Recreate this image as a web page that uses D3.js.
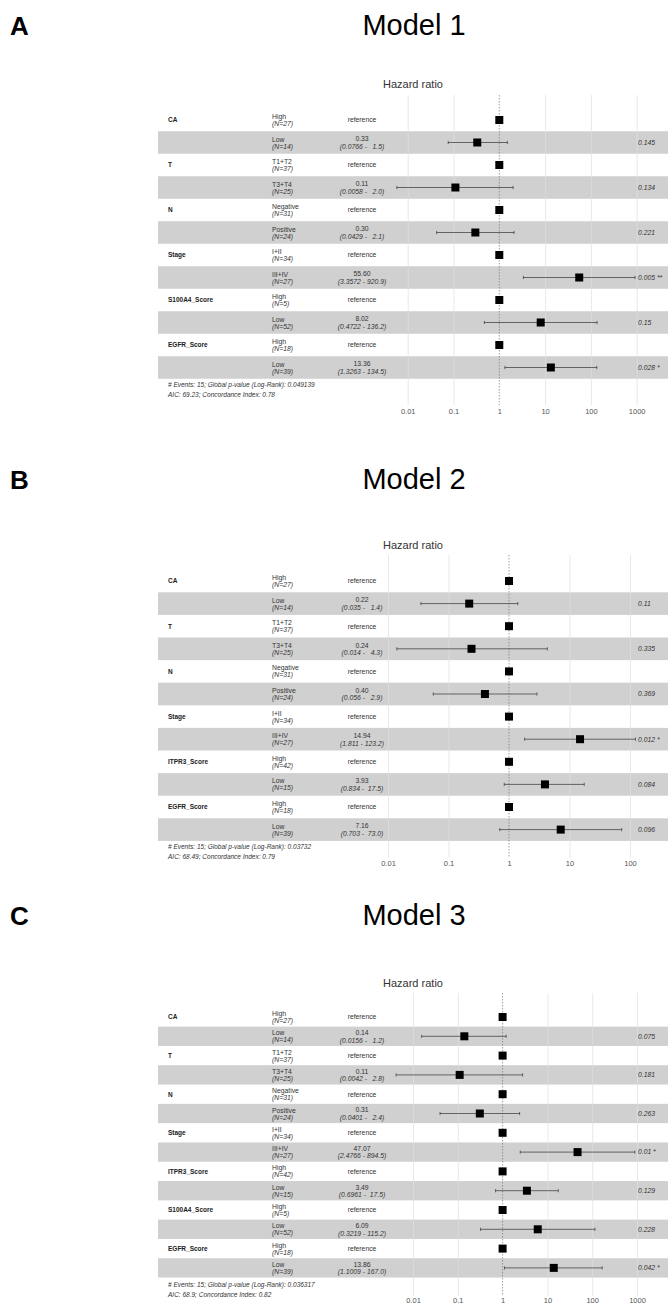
<!DOCTYPE html>
<html>
<head>
<meta charset="utf-8">
<script src="https://cdn.jsdelivr.net/npm/d3@7"></script>
<style>
  body { margin: 0; background: #fff; }
  svg { display: block; font-family: "Liberation Sans", Arial, sans-serif; }
  .var { font-weight: bold; font-size: 6.5px; fill: #222; }
  .cell { font-size: 6.8px; fill: #333; white-space: pre; }
  .ital { font-style: italic; }
  .foot { font-size: 6.5px; font-style: italic; fill: #333; }
  .axis text { font-size: 7.5px; fill: #555; }
  .grid line { stroke: #e0e0e0; stroke-width: 0.7; }
</style>
</head>
<body>
<svg width="668" height="1315"></svg>
<script>
// ---- data ----
const ticksWide = [0.01, 0.1, 1, 10, 100, 1000];
const ticksNarrow = [0.01, 0.1, 1, 10, 100];

// Model 1
const vars1 = ["CA", "T", "N", "Stage", "S100A4_Score", "EGFR_Score"];
const levels1 = ["High", "Low", "T1+T2", "T3+T4", "Negative", "Positive", "I+II", "III+IV", "High", "Low", "High", "Low"];
const n1 = [27, 14, 37, 25, 31, 24, 34, 27, 5, 52, 18, 39];
const hr1 = [1, 0.33, 1, 0.11, 1, 0.30, 1, 55.60, 1, 8.02, 1, 13.36];
const lower1 = [null, 0.0766, null, 0.0058, null, 0.0429, null, 3.3572, null, 0.4722, null, 1.3263];
const upper1 = [null, 1.5, null, 2.0, null, 2.1, null, 920.9, null, 136.2, null, 134.5];
const p1 = ["", "0.145", "", "0.134", "", "0.221", "", "0.005 **", "", "0.15", "", "0.028 *"];
const foot1 = ["# Events: 15; Global p-value (Log-Rank): 0.049139", "AIC: 69.23; Concordance Index: 0.78"];

// Model 2
const vars2 = ["CA", "T", "N", "Stage", "ITPR3_Score", "EGFR_Score"];
const levels2 = ["High", "Low", "T1+T2", "T3+T4", "Negative", "Positive", "I+II", "III+IV", "High", "Low", "High", "Low"];
const n2 = [27, 14, 37, 25, 31, 24, 34, 27, 42, 15, 18, 39];
const hr2 = [1, 0.22, 1, 0.24, 1, 0.40, 1, 14.94, 1, 3.93, 1, 7.16];
const lower2 = [null, 0.035, null, 0.014, null, 0.056, null, 1.811, null, 0.834, null, 0.703];
const upper2 = [null, 1.4, null, 4.3, null, 2.9, null, 123.2, null, 17.5, null, 73.0];
const p2 = ["", "0.11", "", "0.335", "", "0.369", "", "0.012 *", "", "0.084", "", "0.096"];
const foot2 = ["# Events: 15; Global p-value (Log-Rank): 0.03732", "AIC: 68.49; Concordance Index: 0.79"];

// Model 3
const vars3 = ["CA", "T", "N", "Stage", "ITPR3_Score", "S100A4_Score", "EGFR_Score"];
const levels3 = ["High", "Low", "T1+T2", "T3+T4", "Negative", "Positive", "I+II", "III+IV", "High", "Low", "High", "Low", "High", "Low"];
const n3 = [27, 14, 37, 25, 31, 24, 34, 27, 42, 15, 5, 52, 18, 39];
const hr3 = [1, 0.14, 1, 0.11, 1, 0.31, 1, 47.07, 1, 3.49, 1, 6.09, 1, 13.86];
const lower3 = [null, 0.0156, null, 0.0042, null, 0.0401, null, 2.4766, null, 0.6961, null, 0.3219, null, 1.1009];
const upper3 = [null, 1.2, null, 2.8, null, 2.4, null, 894.5, null, 17.5, null, 115.2, null, 167.0];
const p3 = ["", "0.075", "", "0.181", "", "0.263", "", "0.01 *", "", "0.129", "", "0.228", "", "0.042 *"];
const foot3 = ["# Events: 15; Global p-value (Log-Rank): 0.036317", "AIC: 68.9; Concordance Index: 0.82"];

// ---- layout ----
const panels = [
  { letter: "A", title: "Model 1", vars: vars1, levels: levels1, n: n1, hr: hr1, lower: lower1, upper: upper1, p: p1, foot: foot1,
    ticks: ticksWide, digits: 4, xr: [407.7, 636.7], titleY: 35, hrY: 88, gridTop: 95, gridBottom: 405, row0: 120, pitch: 22.5,
    footY: 385, axisY: 411 },
  { letter: "B", title: "Model 2", vars: vars2, levels: levels2, n: n2, hr: hr2, lower: lower2, upper: upper2, p: p2, foot: foot2,
    ticks: ticksNarrow, digits: 3, xr: [388, 630], titleY: 489, hrY: 549, gridTop: 555, gridBottom: 858, row0: 581, pitch: 22.6,
    footY: 847, axisY: 863 },
  { letter: "C", title: "Model 3", vars: vars3, levels: levels3, n: n3, hr: hr3, lower: lower3, upper: upper3, p: p3, foot: foot3,
    ticks: ticksWide, digits: 4, xr: [413, 637], titleY: 925, hrY: 987, gridTop: 993, gridBottom: 1296, row0: 1017, pitch: 19.3,
    footY: 1285, axisY: 1300 }
];

const svg = d3.select("svg");
const tableLeft = 158, tableRight = 668;
const varX = 168, levelX = 272, estX = 362, pX = 638;

panels.forEach(drawPanel);

function drawPanel(pn) {
  const g = svg.append("g");
  const ticks = pn.ticks;
  const x = d3.scaleLog().domain([ticks[0], ticks[ticks.length - 1]]).range(pn.xr);
  const rows = pn.levels.map((lvl, i) => ({
    i, level: lvl, n: pn.n[i], hr: pn.hr[i], lower: pn.lower[i], upper: pn.upper[i], p: pn.p[i],
    variable: i % 2 === 0 ? pn.vars[i / 2] : ""
  }));
  const cy = i => pn.row0 + i * pn.pitch;
  const upperWidth = d3.max(pn.upper, d => d == null ? 0 : d.toFixed(1).length);

  g.append("text")
    .attr("x", 10).attr("y", pn.titleY)
    .style("font-size", "26px").style("font-weight", "bold")
    .text(pn.letter);

  g.append("text")
    .attr("x", 414).attr("y", pn.titleY)
    .attr("text-anchor", "middle")
    .style("font-size", "29px")
    .text(pn.title);

  g.append("text")
    .attr("x", 413).attr("y", pn.hrY)
    .attr("text-anchor", "middle")
    .style("font-size", "11px").style("fill", "#333")
    .text("Hazard ratio");

  // shaded rows
  g.selectAll(".band")
    .data(rows.filter(d => d.i % 2 === 1))
    .enter().append("rect")
    .attr("class", "band")
    .attr("x", tableLeft)
    .attr("width", tableRight - tableLeft)
    .attr("y", d => cy(d.i) - pn.pitch / 2)
    .attr("height", pn.pitch)
    .attr("fill", "#d0d0d0");

  // vertical grid
  const grid = g.append("g")
    .attr("class", "grid")
    .attr("transform", `translate(0,${pn.gridTop})`)
    .call(d3.axisBottom(x).tickValues(ticks.filter(t => t !== 1)).tickSize(pn.gridBottom - pn.gridTop).tickFormat(""));
  grid.select(".domain").remove();

  g.append("line")
    .attr("x1", x(1)).attr("x2", x(1))
    .attr("y1", pn.gridTop).attr("y2", pn.gridBottom)
    .attr("stroke", "#777")
    .attr("stroke-width", 0.7)
    .attr("stroke-dasharray", "1.5,1.5");

  // error bars
  const ci = rows.filter(d => d.lower != null);
  g.selectAll(".ci")
    .data(ci)
    .enter().append("line")
    .attr("class", "ci")
    .attr("x1", d => x(d.lower)).attr("x2", d => x(d.upper))
    .attr("y1", d => cy(d.i)).attr("y2", d => cy(d.i))
    .attr("stroke", "#333").attr("stroke-width", 0.7);

  ["lower", "upper"].forEach(k => {
    g.selectAll(".cap-" + k)
      .data(ci)
      .enter().append("line")
      .attr("x1", d => x(d[k])).attr("x2", d => x(d[k]))
      .attr("y1", d => cy(d.i) - 1.6).attr("y2", d => cy(d.i) + 1.6)
      .attr("stroke", "#333").attr("stroke-width", 0.7);
  });

  g.selectAll(".pt")
    .data(rows)
    .enter().append("rect")
    .attr("class", "pt")
    .attr("x", d => x(d.hr) - 4)
    .attr("y", d => cy(d.i) - 4)
    .attr("width", 8).attr("height", 8)
    .attr("fill", "#000");

  // table text
  g.selectAll(".var")
    .data(rows.filter(d => d.variable))
    .enter().append("text")
    .attr("class", "var")
    .attr("x", varX).attr("y", d => cy(d.i) + 2.3)
    .text(d => d.variable);

  const lvl = g.selectAll(".lvl")
    .data(rows)
    .enter().append("text")
    .attr("class", "cell")
    .attr("x", levelX).attr("y", d => cy(d.i) - 1);
  lvl.append("tspan").text(d => d.level);
  lvl.append("tspan")
    .attr("class", "ital")
    .attr("x", levelX).attr("dy", 7)
    .text(d => `(N=${d.n})`);

  g.selectAll(".ref")
    .data(rows.filter(d => d.lower == null))
    .enter().append("text")
    .attr("class", "cell")
    .attr("x", estX).attr("y", d => cy(d.i) + 2.3)
    .attr("text-anchor", "middle")
    .text("reference");

  const est = g.selectAll(".est")
    .data(ci)
    .enter().append("text")
    .attr("class", "cell")
    .attr("text-anchor", "middle")
    .attr("x", estX).attr("y", d => cy(d.i) - 1.2);
  est.append("tspan").text(d => d.hr.toFixed(2));
  est.append("tspan")
    .attr("class", "ital")
    .attr("x", estX).attr("dy", 7.5)
    .text(d => `(${d.lower.toFixed(pn.digits)} - ${d.upper.toFixed(1).padStart(upperWidth, " ")})`);

  g.selectAll(".pv")
    .data(ci)
    .enter().append("text")
    .attr("class", "cell ital")
    .attr("x", pX).attr("y", d => cy(d.i) + 2.3)
    .text(d => d.p);

  // footnote
  g.selectAll(".foot")
    .data(pn.foot)
    .enter().append("text")
    .attr("class", "foot")
    .attr("x", varX)
    .attr("y", (d, k) => pn.footY + 2.3 + k * 10)
    .text(d => d);

  // axis labels
  const ax = g.append("g")
    .attr("class", "axis")
    .attr("transform", `translate(0,${pn.axisY})`)
    .call(d3.axisBottom(x).tickValues(ticks).tickSize(0).tickPadding(0).tickFormat(d => String(d)));
  ax.select(".domain").remove();
  ax.selectAll("text").attr("y", 0).attr("dy", "0.35em");
}
</script>
</body>
</html>
